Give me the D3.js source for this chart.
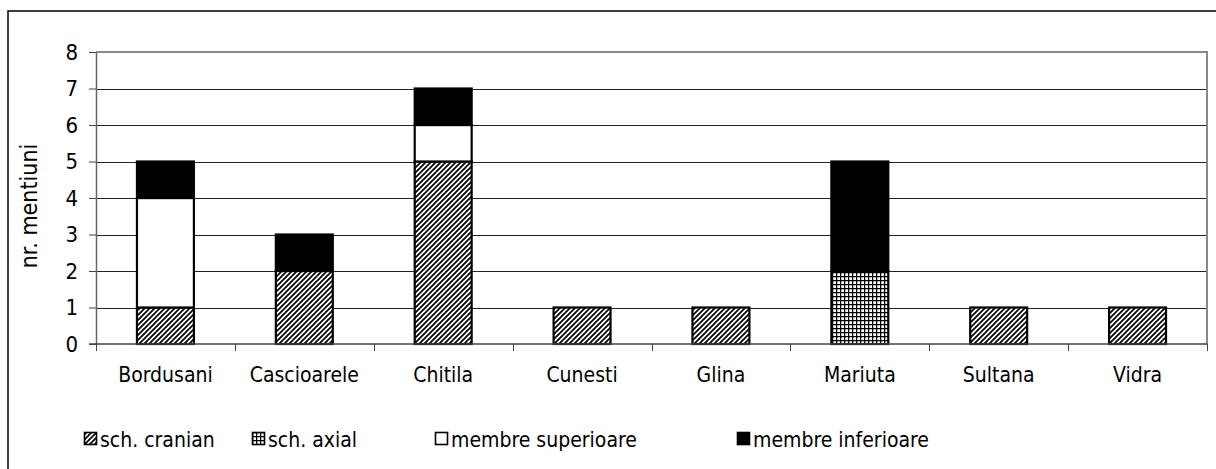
<!DOCTYPE html>
<html>
<head>
<meta charset="utf-8">
<script src="https://cdn.jsdelivr.net/npm/d3@7"></script>
<style>
  body { margin: 0; background: #fff; }
  svg { display: block; font-family: "DejaVu Sans Condensed", "DejaVu Sans", sans-serif; }
</style>
</head>
<body>
<div id="chart"></div>
<script>
// data
const categories = ["Bordusani", "Cascioarele", "Chitila", "Cunesti", "Glina", "Mariuta", "Sultana", "Vidra"];
const cranian    = [1, 2, 5, 1, 1, 0, 1, 1];
const axial      = [0, 0, 0, 0, 0, 2, 0, 0];
const superioare = [3, 0, 1, 0, 0, 0, 0, 0];
const inferioare = [1, 1, 1, 0, 0, 3, 0, 0];
const seriesNames = ["sch. cranian", "sch. axial", "membre superioare", "membre inferioare"];
const yTicks = [0, 1, 2, 3, 4, 5, 6, 7, 8];

const W = 1216, H = 469;
const margin = {top: 52, right: 9, bottom: 125, left: 96};
const width = W - margin.left - margin.right;
const height = H - margin.top - margin.bottom;

const rows = categories.map((c, i) => ({
  cat: c,
  cranian: cranian[i], axial: axial[i], superioare: superioare[i], inferioare: inferioare[i]
}));
const keys = ["cranian", "axial", "superioare", "inferioare"];
const stacked = d3.stack().keys(keys)(rows);

const x = d3.scaleBand().domain(categories).range([0, width]).paddingInner(0.59).paddingOuter(0.295);
const xb = d3.scaleBand().domain(categories).range([0, width]);
const y = d3.scaleLinear().domain([0, 8]).range([height, 0]);

const svg = d3.select("#chart").append("svg")
    .attr("width", W).attr("height", H);

// 1. patterns
const defs = svg.append("defs");
const hatch = defs.append("pattern")
    .attr("id", "hatch").attr("patternUnits", "userSpaceOnUse")
    .attr("width", 5).attr("height", 5);
hatch.append("rect").attr("width", 5).attr("height", 5).attr("fill", "#fff");
hatch.append("path").attr("d", "M-1,6 L6,-1 M-1,1 L1,-1 M4,6 L6,4")
    .attr("stroke", "#000").attr("stroke-width", 1.7);

const grid = defs.append("pattern")
    .attr("id", "grid").attr("patternUnits", "userSpaceOnUse")
    .attr("width", 4).attr("height", 4);
grid.append("rect").attr("width", 4).attr("height", 4).attr("fill", "#fff");
grid.append("path").attr("d", "M0.5,0 V4 M0,0.5 H4")
    .attr("stroke", "#000").attr("stroke-width", 1.5);

const fills = {cranian: "url(#hatch)", axial: "url(#grid)", superioare: "#fff", inferioare: "#000"};

// 2. outer frame
svg.append("rect")
    .attr("x", 8).attr("y", 11).attr("width", W).attr("height", H)
    .attr("fill", "none").attr("stroke", "#000").attr("stroke-width", 1.5);

const g = svg.append("g").attr("transform", `translate(${margin.left},${margin.top})`);

// 3. gridlines
g.append("g").selectAll("line").data(yTicks.slice(1)).join("line")
    .attr("x1", 0).attr("x2", width)
    .attr("y1", d => Math.round(y(d)) + 0.5).attr("y2", d => Math.round(y(d)) + 0.5)
    .attr("stroke", "#222").attr("stroke-width", 1);

// plot area border (top / right grey)
g.append("path")
    .attr("d", `M0,${y(8)} H${width} V${height}`)
    .attr("fill", "none").attr("stroke", "#888").attr("stroke-width", 2);

// 4. bars
g.append("g").selectAll("g").data(stacked).join("g")
    .attr("fill", d => fills[d.key])
  .selectAll("rect").data(d => d.filter(s => s[1] > s[0])).join("rect")
    .attr("x", d => x(d.data.cat))
    .attr("y", d => y(d[1]))
    .attr("width", x.bandwidth())
    .attr("height", d => y(d[0]) - y(d[1]))
    .attr("stroke", "#000").attr("stroke-width", 2.2);

// 5. axes
const yAxis = g.append("g")
    .call(d3.axisLeft(y).tickValues(yTicks).tickSize(7).tickSizeOuter(0).tickPadding(11));
yAxis.select(".domain").attr("stroke", "#666").attr("stroke-width", 1.5);
yAxis.selectAll(".tick line").attr("stroke", "#444");
yAxis.selectAll("text").attr("font-size", 22).attr("fill", "#000")
    .attr("font-family", "'DejaVu Sans Condensed', 'DejaVu Sans', sans-serif");

const xAxis = g.append("g").attr("transform", `translate(0,${height})`);
xAxis.append("line").attr("x1", -7).attr("x2", width).attr("y1", 0).attr("y2", 0)
    .attr("stroke", "#444").attr("stroke-width", 1.5);
xAxis.selectAll(".xt").data(d3.range(categories.length + 1)).join("line")
    .attr("class", "xt")
    .attr("x1", i => Math.round(i * xb.step()) + 0.5).attr("x2", i => Math.round(i * xb.step()) + 0.5)
    .attr("y1", 0).attr("y2", 7).attr("stroke", "#444");
xAxis.selectAll("text").data(categories).join("text")
    .attr("x", d => xb(d) + xb.bandwidth() / 2)
    .attr("y", 38)
    .attr("text-anchor", "middle").attr("font-size", 21)
    .text(d => d);

// 6. y title
svg.append("text")
    .attr("transform", `translate(37,${margin.top + height / 2 + 8}) rotate(-90)`)
    .attr("text-anchor", "middle").attr("font-size", 23)
    .text("nr. mentiuni");

// 7. legend
const legendX = [84, 252, 435, 737];
const legend = svg.append("g").attr("transform", "translate(0,440)");
const item = legend.selectAll("g").data(keys).join("g")
    .attr("transform", (d, i) => `translate(${legendX[i]},0)`);
item.append("rect")
    .attr("x", 0.5).attr("y", -7.5).attr("width", 12).attr("height", 12)
    .attr("fill", d => fills[d]).attr("stroke", "#000").attr("stroke-width", 1.6);
item.append("text")
    .attr("x", 16).attr("y", 7)
    .attr("font-size", 21)
    .text((d, i) => seriesNames[i]);
</script>
</body>
</html>
